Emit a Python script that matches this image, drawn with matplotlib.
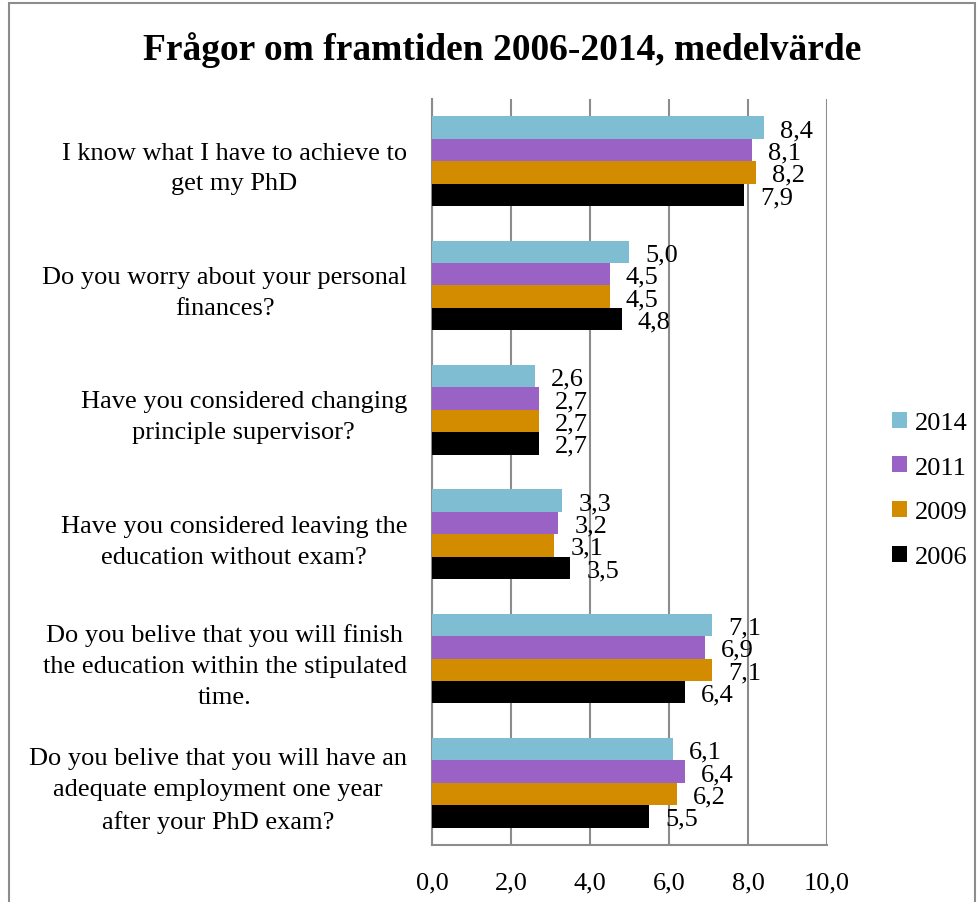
import numpy as np
import matplotlib.pyplot as plt
from matplotlib.patches import Rectangle

plt.rcParams['font.family'] = ['Liberation Serif', 'DejaVu Serif']

# -------------- DATA --------------
questions = [
  'I know what I have to achieve to\nget my PhD',
  'Do you worry about your personal\nfinances?',
  'Have you considered changing\nprinciple supervisor?',
  'Have you considered leaving the\neducation without exam?',
  'Do you belive that you will finish\nthe education within the stipulated\ntime.',
  'Do you belive that you will have an\nadequate employment one year\nafter your PhD exam?',
]
years = ['2014', '2011', '2009', '2006']
v2014 = [8.4, 5.0, 2.6, 3.3, 7.1, 6.1]
v2011 = [8.1, 4.5, 2.7, 3.2, 6.9, 6.4]
v2009 = [8.2, 4.5, 2.7, 3.1, 7.1, 6.2]
v2006 = [7.9, 4.8, 2.7, 3.5, 6.4, 5.5]
colors = ['#7fbdd3', '#9a62c5', '#d38b00', '#000000']
xticks = [0, 2, 4, 6, 8, 10]

# -------------- FIGURE --------------
fig = plt.figure(figsize=(9.79, 9.03), dpi=100)
ax = fig.add_axes([0.4413, 0.0631, 0.4034, 0.8262])

# frame around the whole chart
fig.patches.append(Rectangle((9/979, -0.01), (975-9)/979, 1.01 - 4/903,
                             transform=fig.transFigure, fill=False,
                             edgecolor='#8c8c8c', linewidth=1.5))

y = np.arange(len(questions))
h = 0.18
series = [v2014, v2011, v2009, v2006]
for i, (vals, col, yr) in enumerate(zip(series, colors, years)):
  pos = y + (i - 1.5) * h
  bars = ax.barh(pos, vals, height=h, color=col, label=yr, zorder=3)
  for b, v in zip(bars, vals):
    ax.annotate(('%.1f' % v).replace('.', ','),
                (v, b.get_y() + h / 2), xytext=(16, 0),
                textcoords='offset pixels', ha='left', va='center_baseline',
                fontsize=19, zorder=4)

ax.set_ylim(-0.5, len(questions) - 0.5)
ax.invert_yaxis()
ax.set_xlim(0, 10)
ax.set_xticks(xticks)
ax.set_xticklabels([('%.1f' % t).replace('.', ',') for t in xticks], fontsize=19)
ax.set_yticks(y)
ax.set_yticklabels(questions, fontsize=19, linespacing=1.52)
for lab in ax.get_yticklabels():
  lab.set_multialignment('center')
ax.tick_params(axis='y', length=0, pad=18)
ax.tick_params(axis='x', length=0, pad=19)

ax.grid(axis='x', color='#8c8c8c', linewidth=1.5, zorder=0)
for s in ['top', 'right']:
  ax.spines[s].set_visible(False)
for s in ['left', 'bottom']:
  ax.spines[s].set_color('#8c8c8c')
  ax.spines[s].set_linewidth(1.5)

fig.text(0.513, 0.945, 'Frågor om framtiden 2006-2014, medelvärde',
         ha='center', va='center', fontsize=27, fontweight='bold')

ax.legend(loc='center left', bbox_to_anchor=(1.105, 0.476), frameon=False,
          fontsize=19, handlelength=0.55, handleheight=0.55,
          handletextpad=0.3, labelspacing=0.85)

fig.savefig('out.png', dpi=100)
